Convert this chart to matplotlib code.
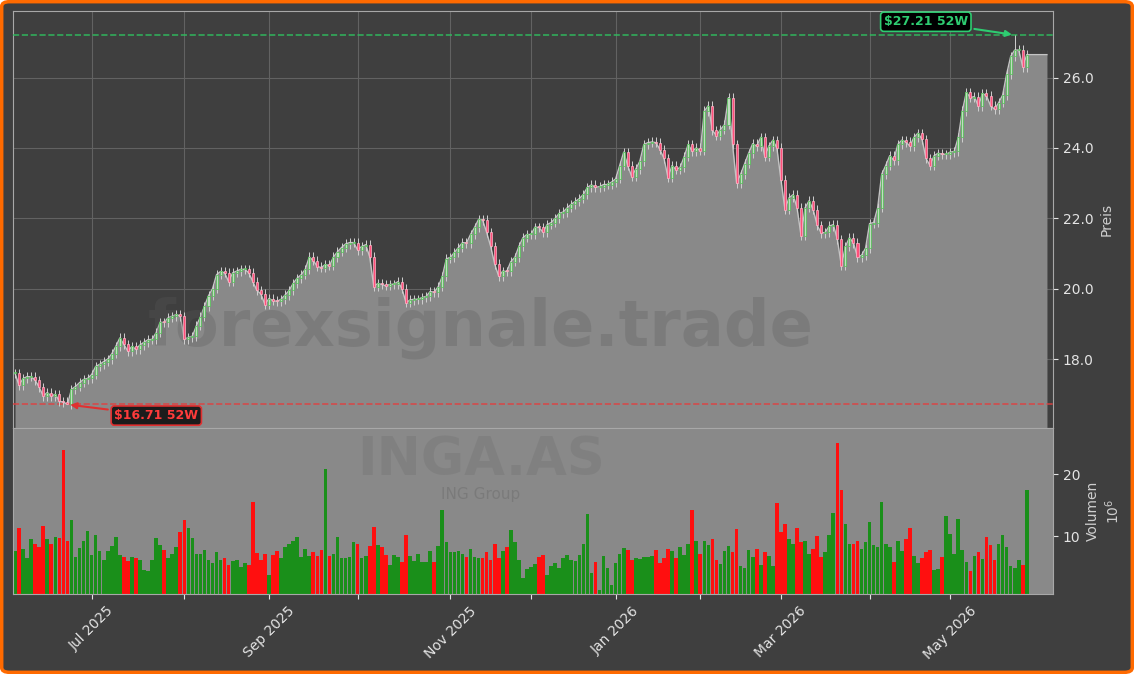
import matplotlib

matplotlib.use("Agg")
import matplotlib.pyplot as plt
import numpy as np
import pandas as pd
from matplotlib.patches import FancyBboxPatch

# ---- data ----
start_date = "2025-06-04"
end_date = "2026-05-29"
holidays = ["2025-12-25", "2025-12-26", "2026-01-01", "2026-04-03", "2026-04-06", "2026-05-01"]

closes = [
    17.6, 17.25, 17.45, 17.5, 17.5, 17.4, 17.2, 16.95, 17.05, 16.95,
    17.0, 16.8, 16.78, 16.71, 17.14, 17.22, 17.33, 17.42, 17.45, 17.56,
    17.79, 17.85, 17.93, 18.0, 18.15, 18.36, 18.6, 18.42, 18.22, 18.36,
    18.28, 18.4, 18.48, 18.55, 18.56, 18.75, 19.05, 19.04, 19.18, 19.22,
    19.27, 19.22, 18.56, 18.62, 18.65, 18.95, 19.2, 19.5, 19.8, 20.0,
    20.4, 20.49, 20.45, 20.2, 20.45, 20.5, 20.55, 20.55, 20.45, 20.2,
    19.95, 19.85, 19.55, 19.72, 19.66, 19.64, 19.7, 19.82, 19.95, 20.15,
    20.3, 20.4, 20.55, 20.9, 20.8, 20.63, 20.6, 20.69, 20.65, 20.9,
    21.05, 21.17, 21.27, 21.31, 21.31, 21.1, 21.2, 21.25, 20.9, 20.06,
    20.15, 20.12, 20.08, 20.12, 20.13, 20.2, 20.0, 19.6, 19.68, 19.7,
    19.7, 19.75, 19.78, 19.92, 19.9, 20.06, 20.35, 20.85, 20.89, 21.03,
    21.17, 21.31, 21.3, 21.54, 21.74, 21.97, 21.95, 21.6, 21.2, 20.7,
    20.35, 20.5, 20.49, 20.77, 20.89, 21.2, 21.45, 21.54, 21.54, 21.75,
    21.74, 21.6, 21.82, 21.88, 22.0, 22.14, 22.18, 22.3, 22.4, 22.48,
    22.56, 22.68, 22.88, 22.95, 22.88, 22.9, 22.96, 22.96, 23.03, 23.12,
    23.5, 23.88, 23.5, 23.18, 23.4, 23.62, 24.1, 24.15, 24.17, 24.15,
    23.95, 23.7, 23.15, 23.5, 23.38, 23.45, 23.75, 24.1, 23.9, 24.0,
    23.92, 25.05, 25.2, 24.5, 24.35, 24.52, 24.66, 25.43, 24.1, 23.0,
    23.25, 23.55, 23.85, 24.12, 24.05, 24.3, 23.75, 24.05, 24.22, 24.0,
    23.1, 22.25, 22.58, 22.67, 22.3, 21.5, 22.3, 22.5, 22.25, 21.8,
    21.58, 21.6, 21.78, 21.82, 21.4, 20.65, 21.2, 21.45, 21.3, 20.9,
    20.95, 21.15, 21.85, 21.88, 22.3, 23.25, 23.5, 23.78, 23.65, 24.1,
    24.22, 24.17, 24.05, 24.3, 24.42, 24.25, 23.7, 23.5, 23.78, 23.85,
    23.82, 23.82, 23.88, 23.9, 24.3, 25.05, 25.58, 25.43, 25.46, 25.18,
    25.55, 25.48, 25.2, 25.1, 25.28, 25.5, 26.1, 26.6, 26.78, 26.78,
    26.3, 26.65,
]

volumes_m = [
    7.6, 11.3, 7.9, 6.5, 9.5, 8.7, 8.3, 11.6, 9.5, 8.7,
    9.9, 9.7, 23.9, 9.2, 12.7, 6.7, 8.1, 9.3, 10.9, 6.9,
    10.2, 7.6, 6.1, 7.6, 8.4, 9.9, 6.9, 6.7, 6.0, 6.7,
    6.4, 6.1, 4.5, 4.4, 6.1, 9.7, 8.5, 7.7, 6.4, 7.1,
    8.3, 10.7, 12.7, 11.3, 9.7, 7.2, 7.2, 7.7, 6.1, 5.7,
    7.5, 6.1, 6.5, 5.3, 6.0, 6.1, 5.0, 5.6, 5.3, 15.5,
    7.3, 6.2, 7.1, 3.7, 6.9, 7.6, 6.4, 8.3, 8.7, 9.2,
    9.9, 6.7, 7.9, 6.8, 7.4, 6.8, 7.7, 20.8, 6.8, 7.2,
    9.9, 6.5, 6.5, 6.7, 9.0, 8.7, 6.5, 6.8, 8.4, 11.5,
    8.5, 8.2, 6.9, 5.3, 6.9, 6.7, 5.8, 10.2, 6.8, 6.0,
    7.2, 5.8, 5.8, 7.6, 5.8, 8.4, 14.3, 9.0, 7.4, 7.4,
    7.6, 7.1, 6.7, 7.9, 6.7, 6.4, 6.4, 7.4, 6.1, 8.7,
    6.4, 7.6, 8.2, 11.0, 9.0, 6.1,
    3.3, 4.7, 5.0, 5.5, 6.6, 7.0, 3.7, 5.1, 5.7, 4.9,
    6.5, 6.9, 6.1, 6.0, 6.9, 8.7, 13.6, 4.0, 5.8, 1.3,
    6.8, 4.9, 2.1, 5.7, 7.1, 8.1, 7.7, 6.1, 6.4, 6.3,
    6.7, 6.6, 6.8, 7.7, 5.7, 6.5, 7.9, 7.6, 6.5, 8.2,
    6.9, 8.8, 14.3, 9.3, 7.2, 9.3, 8.5, 9.5, 6.1, 5.5,
    7.6, 8.4, 7.5, 11.2, 5.1, 4.9, 7.7, 6.6, 7.9, 5.3,
    7.4, 6.8, 5.1, 15.3, 10.6, 12.0, 9.5, 8.8, 11.4, 9.1,
    9.2, 7.2, 7.9, 10.0, 6.7, 7.4, 10.2, 13.7, 25.0, 17.4,
    11.9, 8.7, 8.8, 9.2, 7.9, 9.0, 12.3, 8.5, 8.3, 15.5,
    8.8, 8.2, 5.8, 9.3, 7.6, 9.5, 11.3, 6.8, 5.7, 6.4,
    7.4, 7.7, 4.5, 4.7, 6.6, 13.3, 10.3, 7.1, 12.8, 7.7,
    5.8, 4.4, 6.8, 7.4, 6.3, 9.9, 8.5, 6.1, 8.7, 10.2,
    8.2, 5.1, 4.8, 6.1, 5.3, 17.4,
]

high_52w = 27.21
low_52w = 16.71
ticker = "INGA.AS"
company = "ING Group"
watermark = "forexsignale.trade"

# ---- derived series ----
dates = pd.bdate_range(start_date, end_date, freq="C", holidays=holidays)
close = np.array(closes)
vol = np.array(volumes_m)
n = len(close)
x = np.arange(n)
opens = np.r_[close[0], close[:-1]]
wick = 0.13
highs = np.maximum(opens, close) + wick
lows = np.minimum(opens, close) - wick
hi_idx = int(np.argmax(close))
lo_idx = int(np.argmin(close))
highs[hi_idx] = high_52w
lows[lo_idx] = low_52w
up = close >= opens

BG = "#3f3f3f"
FILL = "#898989"
TXT = "#e4e4e4"

fig = plt.figure(figsize=(11.34, 6.74), dpi=100)
fig.patch.set_facecolor("white")
fig.patches.append(FancyBboxPatch(
    (0.0015, 0.0025), 0.997, 0.995, boxstyle="round,pad=0,rounding_size=0.007",
    transform=fig.transFigure, facecolor=BG, edgecolor="#ff6a00", linewidth=2.5, zorder=-10))

ax = fig.add_axes([13 / 1134, 1 - 428 / 674, 1040 / 1134, 417 / 674])
axv = fig.add_axes([13 / 1134, 1 - 594 / 674, 1040 / 1134, 166 / 674], sharex=ax)

# price panel
ax.set_facecolor(BG)
ymin, ymax = low_52w * 0.96, high_52w * 1.025
pad = 5
xf = np.r_[x, n - 1 + pad]
cf = np.r_[close, close[-1]]
ax.fill_between(xf, cf, ymin, color=FILL, lw=0, zorder=1)
ax.plot(xf, cf, color="#c4c4c4", lw=1.0, zorder=2)
ax.text(0.45, 0.24, watermark, transform=ax.transAxes, ha="center", va="center",
        fontsize=46, fontweight="bold", color="#5a5a5a", alpha=0.28, zorder=2.5)

ax.vlines(x, lows, highs, color="#d0d0d0", lw=0.7, zorder=3)
body_lo = np.minimum(opens, close)
body_h = np.maximum(np.abs(close - opens), 0.03)
ax.bar(x, body_h, bottom=body_lo, width=0.5,
       color=np.where(up, "#c2dcc2", "#ff4f7b"),
       edgecolor=np.where(up, "#4cc24f", "#ffb6c8"), lw=0.5, zorder=4)

ax.axhline(high_52w, color="#2fbf5f", ls="--", lw=1.2, alpha=0.85, zorder=2.6)
ax.axhline(low_52w, color="#e04040", ls="--", lw=1.2, alpha=0.85, zorder=2.6)

ax.annotate(f"\\${high_52w:.2f} 52W", xy=(hi_idx, high_52w), xytext=(-64, 9.5),
            textcoords="offset points", ha="center", va="center",
            fontsize=9, fontweight="bold", color="#2ecc71",
            bbox=dict(boxstyle="round,pad=0.25", fc="black", ec="#2ecc71", lw=1.2),
            arrowprops=dict(arrowstyle="-|>", color="#2ecc71", lw=1.5), zorder=6)
ax.annotate(f"\\${low_52w:.2f} 52W", xy=(lo_idx, low_52w), xytext=(64, -8),
            textcoords="offset points", ha="center", va="center",
            fontsize=9, fontweight="bold", color="#ff3b3b",
            bbox=dict(boxstyle="round,pad=0.25", fc="#1c1c1c", ec="#e03030", lw=1.2),
            arrowprops=dict(arrowstyle="-|>", color="#e03030", lw=1.5), zorder=6)

ax.set_ylim(ymin, ymax)
ax.set_xlim(-0.5, n + pad + 0.5)
ax.set_yticks([18, 20, 22, 24, 26])
ax.yaxis.set_major_formatter(matplotlib.ticker.FormatStrFormatter("%.1f"))
ax.yaxis.tick_right()
ax.yaxis.set_label_position("right")
ax.set_ylabel("Preis", color="#cfcfcf", fontsize=10)
ax.grid(True, color="#626262", lw=0.8)
ax.set_axisbelow(True)
ax.tick_params(axis="y", colors=TXT, labelsize=10)
ax.tick_params(axis="x", labelbottom=False, length=0)
for s in ax.spines.values():
    s.set_color("#a8a8a8")

# volume panel
axv.set_facecolor(FILL)
axv.bar(x, vol, width=0.9, color=np.where(up, "#1a8f1a", "#ff0f0f"), lw=0, zorder=2)
axv.set_ylim(vol.min() * 0.5, vol.max() * 1.1)
axv.set_yticks([10, 20])
axv.yaxis.tick_right()
axv.yaxis.set_label_position("right")
axv.set_ylabel("Volumen\n10$^6$", color="#cfcfcf", fontsize=10)
axv.text(0.45, 0.81, ticker, transform=axv.transAxes, ha="center", va="center",
         fontsize=38, fontweight="bold", color="#5a5a5a", alpha=0.18, zorder=1)
axv.text(0.45, 0.6, company, transform=axv.transAxes, ha="center", va="center",
         fontsize=11, color="#5a5a5a", alpha=0.3, zorder=1)

month = dates.month
tick_pos = [i for i in range(1, n) if month[i] != month[i - 1]]
tick_lab = [dates[i].strftime("%b %Y") if k % 2 == 0 else "" for k, i in enumerate(tick_pos)]
axv.set_xticks(tick_pos, tick_lab)
ax.set_xticks(tick_pos)
plt.setp(axv.get_xticklabels(), rotation=45, ha="center")
axv.tick_params(colors=TXT, labelsize=10)
for s in axv.spines.values():
    s.set_color("#a8a8a8")

fig.savefig("out.png", dpi=100, facecolor=fig.get_facecolor())
